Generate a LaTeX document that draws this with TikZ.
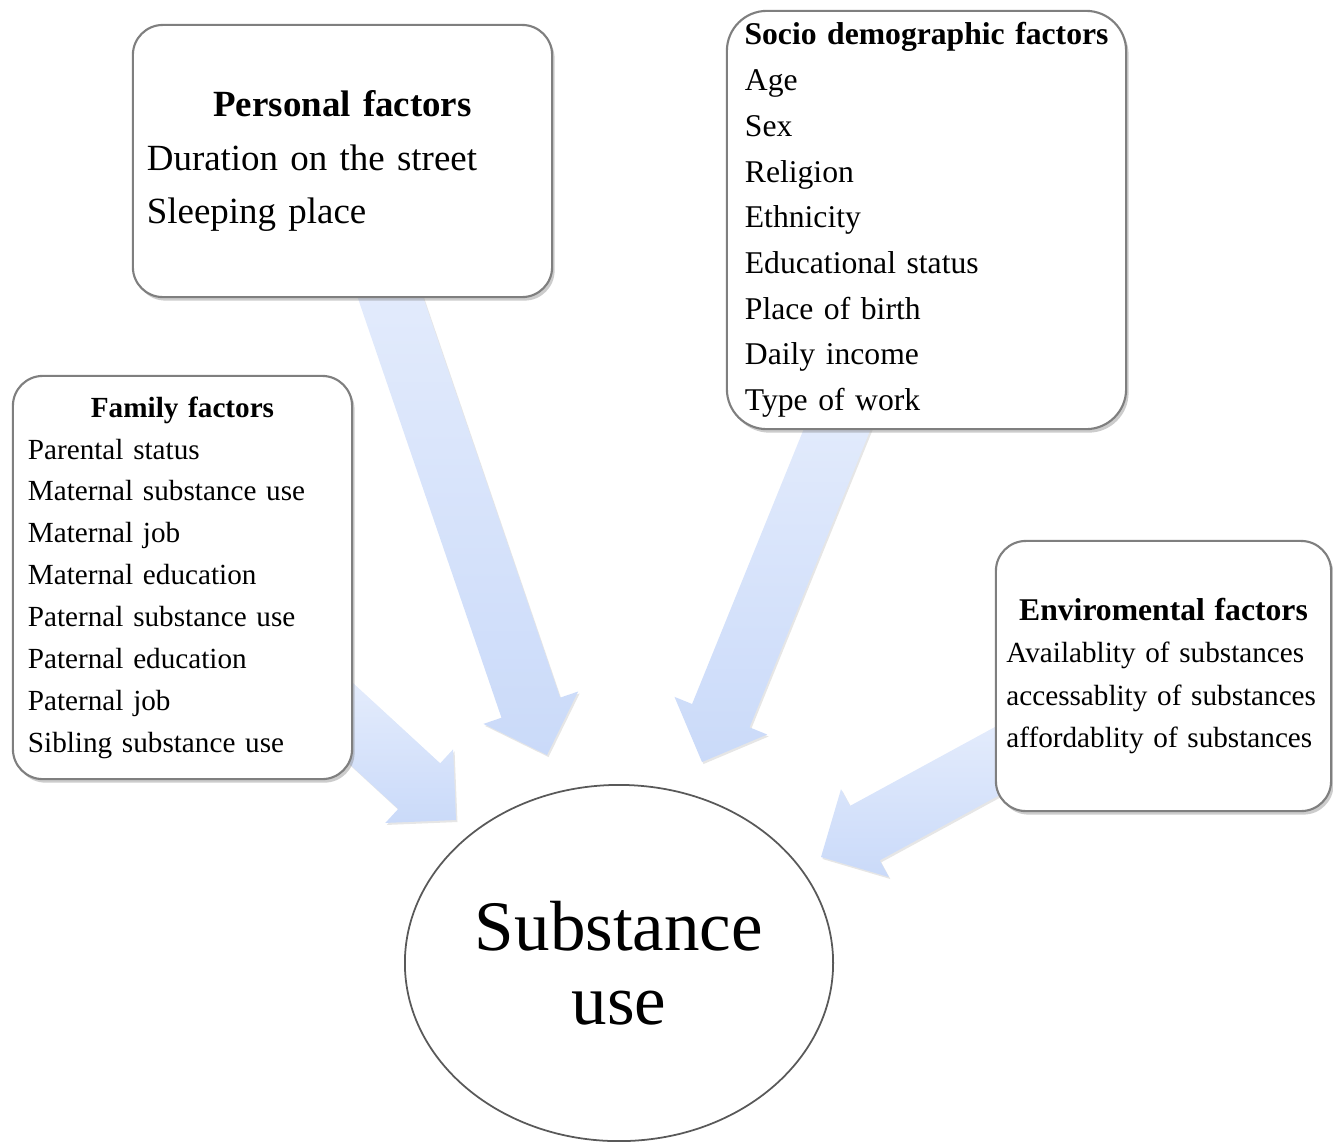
\documentclass[tikz,border=0pt]{standalone}
\usepackage{fontspec}
\setmainfont{Liberation Serif}[WordSpace=0.8]
\usetikzlibrary{calc,shadows,shapes.geometric}

\definecolor{arrowtop}{HTML}{E4ECFC}
\definecolor{arrowbottom}{HTML}{CADAF9}
\definecolor{boxline}{HTML}{7F7F7F}

% broad shaded arrow, #1 = start, #2 = tip
\newcommand{\fatarrow}[2]{%
  \coordinate (#1-base) at ($(#2)!0.5cm!(#1)$);
  \path[bigarrow] ($(#1)!0.31cm!90:(#2)$) -- ($(#1-base)!0.31cm!90:(#2)$)
    -- ($(#1-base)!0.5cm!90:(#2)$) -- (#2) -- ($(#1-base)!0.5cm!-90:(#2)$)
    -- ($(#1-base)!0.31cm!-90:(#2)$) -- ($(#1)!0.31cm!-90:(#2)$) -- cycle;}

\begin{document}
\begin{tikzpicture}[
    x = 0.01cm,
    y = -0.01cm,
    factor/.style = {
        rectangle,
        draw = boxline,
        line width = 0.6pt,
        fill = white,
        rounded corners = 0.3cm,
        align = left,
        drop shadow = {shadow xshift = 0.025cm, shadow yshift = -0.035cm, opacity = 0.4}
    },
    bigarrow/.style = {
        top color = arrowtop,
        bottom color = arrowbottom,
        drop shadow = {shadow xshift = 0.015cm, shadow yshift = -0.02cm, opacity = 0.2}
    },
    outcome/.style = {
        ellipse,
        draw = black!65,
        line width = 0.5pt,
        minimum width = 4.28cm,
        minimum height = 3.56cm,
        inner sep = 0pt,
        align = center,
        font = \fontsize{20.2}{21}\selectfont
    }
]
\useasboundingbox (0,0) rectangle (1333,1141);

% Arrow ends
\coordinate (perstart) at (380,267);
\coordinate (pertip) at (547,755);
\coordinate (socstart) at (849,400);
\coordinate (soctip) at (702,762);
\coordinate (envstart) at (1023,747);
\coordinate (envtip) at (821,857);
\coordinate (famstart) at (330,704);
\coordinate (famtip) at (456,820);

% Arrows (behind the boxes)
\fatarrow{perstart}{pertip}
\fatarrow{socstart}{soctip}
\fatarrow{envstart}{envtip}
\fatarrow{famstart}{famtip}

% Factor boxes
\node[factor, minimum height = 2.72cm, text width = 3.91cm, inner xsep = 0.14cm,
      font = \fontsize{10.5}{15.3}\selectfont] (personal) at (342.5,161) {
    \makebox[\linewidth]{\bfseries Personal factors}\\
    Duration on the street\\
    Sleeping place
};
\node[factor, rounded corners = 0.4cm, minimum height = 4.16cm, text width = 3.63cm,
      inner xsep = 0.18cm, font = \fontsize{9}{13}\selectfont] (socio) at (926.5,220) {
    \makebox[\linewidth]{\bfseries Socio demographic factors}\\
    Age\\
    Sex\\
    Religion\\
    Ethnicity\\
    Educational status\\
    Place of birth\\
    Daily income\\
    Type of work
};
\node[factor, minimum height = 4.03cm, text width = 3.09cm, inner xsep = 0.15cm,
      font = \fontsize{8.3}{11.9}\selectfont] (family) at (182.5,577.5) {
    \makebox[\linewidth]{\bfseries Family factors}\\
    Parental status\\
    Maternal substance use\\
    Maternal job\\
    Maternal education\\
    Paternal substance use\\
    Paternal education\\
    Paternal job\\
    Sibling substance use
};
\node[factor, minimum height = 2.70cm, text width = 3.14cm, inner xsep = 0.105cm,
      font = \fontsize{8.3}{12}\selectfont] (enviro) at (1163.5,676) {
    \makebox[\linewidth]{\fontsize{9}{12}\selectfont\bfseries Enviromental factors}\\
    Availablity of substances\\
    accessablity of substances\\
    affordablity of substances
};

% Outcome
\node[outcome] (use) at (619,963) {Substance\\use};

\end{tikzpicture}
\end{document}
